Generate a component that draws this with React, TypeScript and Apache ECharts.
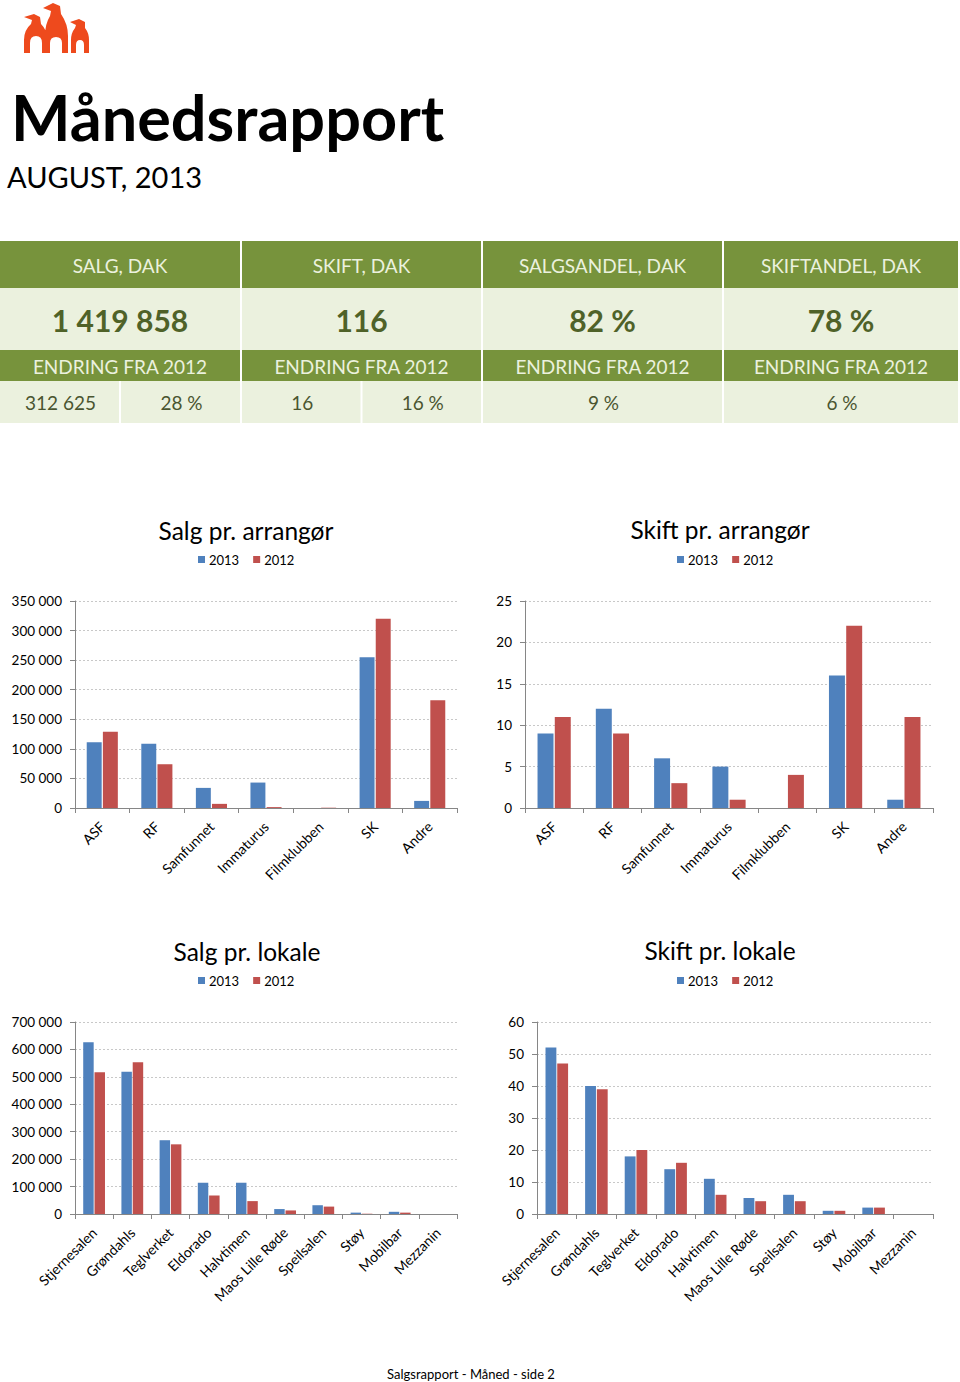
import React, { useEffect, useRef } from "react";
import * as echarts from "echarts";

// ---------- data ----------
const reportTitle = "Månedsrapport";
const reportPeriod = "AUGUST, 2013";
const footerText = "Salgsrapport - Måned - side 2";

const kpiHeaders = ["SALG, DAK", "SKIFT, DAK", "SALGSANDEL, DAK", "SKIFTANDEL, DAK"];
const kpiValues = ["1 419 858", "116", "82 %", "78 %"];
const kpiChangeLabel = "ENDRING FRA 2012";
const kpiChanges = [["312 625", "28 %"], ["16", "16 %"], ["9 %"], ["6 %"]];

const seriesNames = ["2013", "2012"];

const arrangorCategories = ["ASF", "RF", "Samfunnet", "Immaturus", "Filmklubben", "SK", "Andre"];
const salgArrangor2013 = [111000, 108500, 34000, 43000, 0, 255000, 12000];
const salgArrangor2012 = [129000, 74000, 7000, 1500, 500, 320000, 182000];
const skiftArrangor2013 = [9, 12, 6, 5, 0, 16, 1];
const skiftArrangor2012 = [11, 9, 3, 1, 4, 22, 11];

const lokaleCategories = ["Stjernesalen", "Grøndahls", "Teglverket", "Eldorado", "Halvtimen", "Maos Lille Røde", "Speilsalen", "Støy", "Mobilbar", "Mezzanin"];
const salgLokale2013 = [626000, 519000, 269000, 114000, 114000, 18000, 32000, 5000, 8000, 0];
const salgLokale2012 = [517000, 553000, 254000, 67000, 47000, 13000, 27000, 1000, 5000, 0];
const skiftLokale2013 = [52, 40, 18, 14, 11, 5, 6, 1, 2, 0];
const skiftLokale2012 = [47, 39, 20, 16, 6, 4, 4, 1, 2, 0];

const chartTitles = ["Salg pr. arrangør", "Skift pr. arrangør", "Salg pr. lokale", "Skift pr. lokale"];

// ---------- styling ----------
const FONT = "Lato";
const BLUE = "#4f81bd";
const RED = "#c0504d";
const GREEN = "#77933c";
const LIGHT = "#ebf1de";
const DARKGREEN = "#4f6228";

const LOGO_D =
  "M24,17 L34,14 L40,17 L41,24 Q47,30 47,38 L47,53 L42,53 L42,43 Q42,36 36,36 Q30,36 30,43 L30,53 L24,53 L24,40 Q24,30 31,24 L32,20 Z " +
  "M43,8 L53,3 L60,6 L61,14 Q68,24 68,36 L68,53 L62,53 L62,43 Q62,37 56,37 Q50,37 50,43 L50,53 L45,53 L45,36 Q45,24 50,16 L51,11 Z " +
  "M70,22 L79,19 L85,22 L85,28 Q89,33 89,40 L89,53 L84,53 L84,45 Q84,40 80,40 Q76,40 76,45 L76,53 L71,53 L71,40 Q71,33 75,28 L76,25 Z";

const thousands = (v: number) => String(v).replace(/\B(?=(\d{3})+(?!\d))/g, " ");

export default function App() {
  const ref = useRef<HTMLDivElement>(null);

  useEffect(() => {
    if (!ref.current) return;
    echarts.graphic.registerShape("logo", echarts.graphic.extendPath(LOGO_D, {}));
    const chart = echarts.init(ref.current, null, { renderer: "svg" });

    const panels = [
      { cats: arrangorCategories, a: salgArrangor2013, b: salgArrangor2012, max: 350000, interval: 50000, grid: { left: 75, top: 601, width: 382, height: 207 }, fmt: thousands, cx: 246, ty: 530, ly: 553, lx: 198 },
      { cats: arrangorCategories, a: skiftArrangor2013, b: skiftArrangor2012, max: 25, interval: 5, grid: { left: 525, top: 601, width: 408, height: 207 }, fmt: (v: number) => String(v), cx: 720, ty: 529, ly: 553, lx: 677 },
      { cats: lokaleCategories, a: salgLokale2013, b: salgLokale2012, max: 700000, interval: 100000, grid: { left: 75, top: 1022, width: 382, height: 192 }, fmt: thousands, cx: 247, ty: 951, ly: 974, lx: 198 },
      { cats: lokaleCategories, a: skiftLokale2013, b: skiftLokale2012, max: 60, interval: 10, grid: { left: 537, top: 1022, width: 396, height: 192 }, fmt: (v: number) => String(v), cx: 720, ty: 950, ly: 974, lx: 677 },
    ];

    // ---- table graphics ----
    const cols = [
      { x: 0, w: 240 },
      { x: 242, w: 239 },
      { x: 483, w: 239 },
      { x: 724, w: 234 },
    ];
    const rows = { head: [241, 47], main: [288, 62], chg: [350, 31], val: [381, 42] };
    const g: any[] = [];
    cols.forEach((c, i) => {
      const cx = c.x + c.w / 2;
      g.push({ type: "rect", shape: { x: c.x, y: rows.head[0], width: c.w, height: rows.head[1] }, style: { fill: GREEN } });
      g.push({ type: "rect", shape: { x: c.x, y: rows.main[0], width: c.w, height: rows.main[1] }, style: { fill: LIGHT } });
      g.push({ type: "rect", shape: { x: c.x, y: rows.chg[0], width: c.w, height: rows.chg[1] }, style: { fill: GREEN } });
      g.push({ type: "text", x: cx, y: rows.head[0] + rows.head[1] / 2 + 1, style: { text: kpiHeaders[i], fill: LIGHT, font: `19px ${FONT}`, align: "center", verticalAlign: "middle" } });
      g.push({ type: "text", x: cx, y: rows.main[0] + rows.main[1] / 2 + 1, style: { text: kpiValues[i], fill: DARKGREEN, font: `bold 30px ${FONT}`, align: "center", verticalAlign: "middle" } });
      g.push({ type: "text", x: cx, y: rows.chg[0] + rows.chg[1] / 2 + 1, style: { text: kpiChangeLabel, fill: LIGHT, font: `19px ${FONT}`, align: "center", verticalAlign: "middle" } });
      const vals = kpiChanges[i];
      const n = vals.length;
      const sub = (c.w - (n - 1) * 2) / n;
      vals.forEach((v, j) => {
        const sx = c.x + j * (sub + 2);
        g.push({ type: "rect", shape: { x: sx, y: rows.val[0], width: sub, height: rows.val[1] }, style: { fill: LIGHT } });
        g.push({ type: "text", x: sx + sub / 2 + 1, y: rows.val[0] + rows.val[1] / 2, style: { text: v, fill: "#4a5530", font: `19px ${FONT}`, align: "center", verticalAlign: "middle" } });
      });
    });

    g.push({ type: "logo", x: 0, y: 0, scaleX: 1, scaleY: 1, style: { fill: "#ee4a1d" } });
    g.push({ type: "text", x: 11, y: 116, style: { text: reportTitle, fill: "#000", font: `bold 63px ${FONT}`, align: "left", verticalAlign: "middle" } });
    g.push({ type: "text", x: 7, y: 176, style: { text: reportPeriod, fill: "#000", font: `29px ${FONT}`, align: "left", verticalAlign: "middle" } });
    g.push({ type: "text", x: 471, y: 1374, style: { text: footerText, fill: "#000", font: `13px ${FONT}`, align: "center", verticalAlign: "middle" } });
    panels.forEach((p, i) => {
      g.push({ type: "text", x: p.cx, y: p.ty, style: { text: chartTitles[i], fill: "#000", font: `24.5px ${FONT}`, align: "center", verticalAlign: "middle" } });
    });

    const option: any = {
      animation: false,
      textStyle: { fontFamily: FONT },
      legend: panels.map((p) => ({
        data: seriesNames,
        left: p.lx,
        top: p.ly,
        padding: 0,
        icon: "rect",
        itemWidth: 7,
        itemHeight: 7,
        itemGap: 14,
        textStyle: { fontSize: 13, color: "#000", fontFamily: FONT, padding: [0, 0, 0, -1] },
        selectedMode: false,
      })),
      grid: panels.map((p) => ({ ...p.grid, containLabel: false })),
      xAxis: panels.map((p, i) => ({
        type: "category",
        gridIndex: i,
        data: p.cats,
        axisLine: { show: true, lineStyle: { color: "#868686", width: 1 } },
        axisTick: { show: true, length: 5, interval: 0, lineStyle: { color: "#868686" } },
        axisLabel: { interval: 0, rotate: 45, fontSize: 14, color: "#000", fontFamily: FONT, margin: 16 },
        splitLine: { show: false },
      })),
      yAxis: panels.map((p, i) => ({
        type: "value",
        gridIndex: i,
        min: 0,
        max: p.max,
        interval: p.interval,
        axisLine: { show: true, lineStyle: { color: "#868686", width: 1 } },
        axisTick: { show: true, length: 5, lineStyle: { color: "#868686" } },
        axisLabel: { fontSize: 13.5, color: "#000", fontFamily: FONT, margin: 13, formatter: p.fmt },
        splitLine: { show: true, lineStyle: { color: "#c8c8c8", type: [2, 2], width: 1 } },
      })),
      series: panels.flatMap((p, i) => [
        { type: "bar", name: seriesNames[0], xAxisIndex: i, yAxisIndex: i, data: p.a, itemStyle: { color: BLUE }, barGap: "8%", barCategoryGap: "43%" },
        { type: "bar", name: seriesNames[1], xAxisIndex: i, yAxisIndex: i, data: p.b, itemStyle: { color: RED }, barGap: "8%", barCategoryGap: "43%" },
      ]),
      graphic: g,
    };

    chart.setOption(option);
    return () => chart.dispose();
  }, []);

  return (
    <div
      ref={ref}
      style={{ position: "absolute", left: 0, top: 0, width: 960, height: 1382, background: "#fff" }}
    />
  );
}
